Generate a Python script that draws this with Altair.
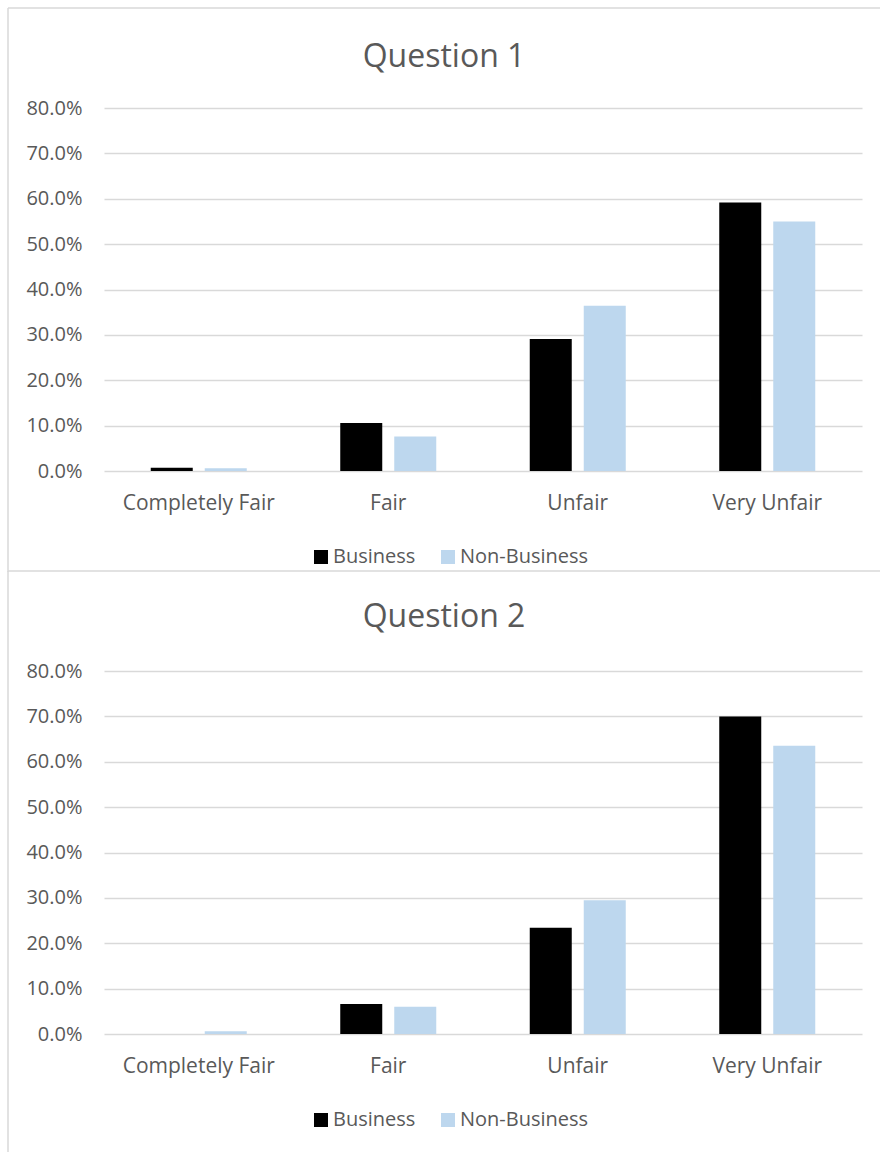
import altair as alt
import pandas as pd

categories = ["Completely Fair", "Fair", "Unfair", "Very Unfair"]
series = ["Business", "Non-Business"]
q1_business = [0.007, 0.106, 0.291, 0.592]
q1_nonbusiness = [0.006, 0.076, 0.364, 0.550]
q2_business = [0.0, 0.066, 0.234, 0.700]
q2_nonbusiness = [0.006, 0.060, 0.295, 0.635]
y_ticks = [0.0, 0.1, 0.2, 0.3, 0.4, 0.5, 0.6, 0.7, 0.8]
titles = ["Question 1", "Question 2"]
colors = ["#000000", "#bdd7ee"]

FONT = "Open Sans"
GREY = "#595959"
LINE = "#d9d9d9"


def make_df(business, nonbusiness):
    rows = []
    for c, b, nb in zip(categories, business, nonbusiness):
        rows.append({"category": c, "series": series[0], "value": b})
        rows.append({"category": c, "series": series[1], "value": nb})
    return pd.DataFrame(rows)


def panel(title, df, frame_bottom, title_offset):
    bars = alt.Chart(df).mark_bar().encode(
        x=alt.X(
            "category:N",
            sort=categories,
            scale=alt.Scale(paddingInner=0.4934, paddingOuter=0.2467),
            axis=alt.Axis(title=None, labelAngle=0, domain=False, ticks=False,
                          labelPadding=21, labelFontSize=21),
        ),
        xOffset=alt.XOffset("series:N", sort=series,
                            scale=alt.Scale(paddingInner=0.2222, paddingOuter=0)),
        y=alt.Y(
            "value:Q",
            scale=alt.Scale(domain=[0, 0.8], nice=False),
            axis=alt.Axis(title=None, format=".1%", values=y_ticks, grid=True,
                          domain=False, ticks=False, labelPadding=22),
        ),
        color=alt.Color(
            "series:N",
            sort=series,
            scale=alt.Scale(domain=series, range=colors),
            legend=alt.Legend(
                orient="none", legendX=207, legendY=439, direction="horizontal",
                title=None, symbolType="square", symbolSize=196,
                symbolStrokeWidth=0, labelOffset=2, columnPadding=22, padding=0,
            ),
        ),
    )
    frame_df = pd.DataFrame({"k": [0]})
    top_rule = alt.Chart(frame_df).mark_rule(color=LINE, strokeWidth=1.5).encode(
        x=alt.value(-96), x2=alt.value(776), y=alt.value(-100)
    )
    left_rule = alt.Chart(frame_df).mark_rule(color=LINE, strokeWidth=1.5).encode(
        x=alt.value(-96), y=alt.value(-100), y2=alt.value(frame_bottom)
    )
    return alt.layer(top_rule, left_rule, bars).properties(
        width=758,
        height=363,
        title=alt.TitleParams(text=title, offset=title_offset, anchor="middle",
                              frame="bounds"),
    )


p1 = panel(titles[0], make_df(q1_business, q1_nonbusiness), 464, -67)
p2 = panel(titles[1], make_df(q2_business, q2_nonbusiness), 481, -64)

chart = (
    alt.vconcat(p1, p2, spacing=-3)
    .resolve_legend(color="independent")
    .properties(padding={"left": 7, "top": 7, "right": 0, "bottom": 0},
                background="white")
    .configure_view(stroke=None)
    .configure_axis(
        labelFont=FONT, labelFontSize=20, labelColor=GREY,
        gridColor=LINE, gridWidth=1.5,
    )
    .configure_legend(labelFont=FONT, labelFontSize=20, labelColor=GREY)
    .configure_title(font=FONT, fontSize=32, color=GREY, fontWeight="normal")
)

chart.save("out.html", embed_options={"renderer": "svg", "actions": False})
